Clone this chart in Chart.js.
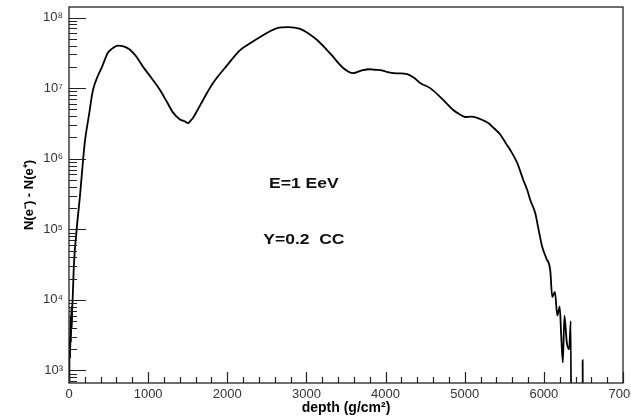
<!DOCTYPE html>
<html>
<head>
<meta charset="utf-8">
<script src="https://cdn.jsdelivr.net/npm/chart.js@4"></script>
<style>
    html, body { margin: 0; padding: 0; background: #fff; }
    #wrap { width: 631px; height: 418px; }
</style>
</head>
<body>
<div id="wrap"><canvas id="showerChart" width="631" height="418"></canvas></div>
<script>
// depth in g/cm2 and N(e-) - N(e+) (1 = empty bin, drawn below the axis)
const depth = [0, 5, 10, 15, 20, 25, 30, 35, 40, 47, 63, 97, 140, 181, 202, 250, 303, 360, 417, 493,
    556, 620, 690, 771, 850, 936, 1040, 1150, 1240, 1315, 1403, 1460, 1504, 1540, 1568, 1620, 1694, 1820, 1997, 2162,
    2300, 2415, 2530, 2630, 2769, 2920, 3030, 3135, 3300, 3464, 3590, 3700, 3805, 3870, 3932, 4000, 4058, 4150, 4273, 4360,
    4437, 4564, 4728, 4855, 4930, 5006, 5080, 5158, 5230, 5297, 5370, 5449, 5520, 5575, 5664, 5740, 5790, 5828, 5891, 5929,
    5980, 6030, 6081, 6106, 6140, 6170, 6200, 6220, 6240, 6260, 6290, 6320, 6340, 6352, 6480, 6490, 6500];
const counts = [1, 900, 3000, 1500, 6000, 2500, 8000, 4000, 7000, 1.1e4, 3.3e4, 1.0e5, 3.1e5, 1.05e6, 1.8e6, 4.0e6, 9.4e6, 1.45e7, 2.0e7, 3.2e7,
    3.7e7, 4.0e7, 3.9e7, 3.5e7, 2.8e7, 2.0e7, 1.4e7, 9.4e6, 6.3e6, 4.5e6, 3.6e6, 3.4e6, 3.2e6, 3.5e6, 3.8e6, 4.8e6, 6.8e6, 1.18e7, 2.1e7, 3.46e7,
    4.4e7, 5.3e7, 6.3e7, 7.1e7, 7.3e7, 6.9e7, 5.9e7, 4.8e7, 3.1e7, 1.93e7, 1.63e7, 1.78e7, 1.85e7, 1.82e7, 1.8e7, 1.72e7, 1.66e7, 1.62e7, 1.58e7, 1.4e7,
    1.18e7, 1.0e7, 6.8e6, 4.9e6, 4.3e6, 3.9e6, 3.95e6, 3.8e6, 3.5e6, 3.2e6, 2.7e6, 2.2e6, 1.65e6, 1.33e6, 8.7e5, 5.0e5, 3.6e5, 2.6e5, 1.7e5, 1.05e5,
    5.6e4, 3.9e4, 2.6e4, 1.1e4, 1.3e4, 6e3, 8e3, 3e3, 1.3e3, 6e3, 2.5e3, 2.0e3, 5e3, 1, 1, 1400, 1];

const xTicks = [0, 1000, 2000, 3000, 4000, 5000, 6000, 7000];
const yTicks = [1e3, 1e4, 1e5, 1e6, 1e7, 1e8];
const supers = { 3: "³", 4: "⁴", 5: "⁵", 6: "⁶", 7: "⁷", 8: "⁸" };
const notes = ["E=1 EeV", "Y=0.2  CC"];

const tickFont = { family: "'Liberation Sans', Arial, sans-serif", size: 13 };
const titleFont = { family: "'Liberation Sans', Arial, sans-serif", size: 14, weight: "bold" };

// ROOT style frame with ticks pointing inwards, plus the two labels
const frameTicks = {
    id: "frameTicks",
    afterDatasetsDraw(chart) {
        const { ctx, chartArea: a, scales } = chart;
        const xs = scales.x, ys = scales.y;
        ctx.save();
        ctx.strokeStyle = "#222";
        ctx.lineWidth = 1.3;
        ctx.strokeRect(a.left, a.top, a.right - a.left, a.bottom - a.top);

        ctx.lineWidth = 1.2;
        ctx.beginPath();
        for (let v = 0; v <= 7000; v += 200) {
            const px = Math.round(xs.getPixelForValue(v)) + 0.5;
            const len = v % 1000 === 0 ? 11 : 6;
            ctx.moveTo(px, a.bottom);
            ctx.lineTo(px, a.bottom - len);
        }
        for (let e = 2; e <= 8; e++) {
            for (let m = 1; m <= 9; m++) {
                const v = m * Math.pow(10, e);
                if (v < ys.min || v > ys.max) continue;
                const py = Math.round(ys.getPixelForValue(v)) + 0.5;
                const len = m === 1 ? 17 : 8;
                ctx.moveTo(a.left, py);
                ctx.lineTo(a.left + len, py);
            }
        }
        ctx.stroke();

        ctx.fillStyle = "#111";
        ctx.font = "bold 14px 'Liberation Sans', Arial, sans-serif";
        ctx.textAlign = "center";
        ctx.textBaseline = "middle";
        const cx = a.left + (a.right - a.left) * 0.424;
        [[notes[0], 184], [notes[1], 240]].forEach(([t, y]) => {
            ctx.save();
            ctx.translate(cx, y);
            ctx.scale(1.25, 1);
            ctx.fillText(t, 0, 0);
            ctx.restore();
        });
        ctx.restore();
    }
};

const ctx = document.getElementById("showerChart").getContext("2d");

new Chart(ctx, {
    type: "line",
    data: {
        datasets: [{
            data: depth.map((d, i) => ({ x: d, y: counts[i] })),
            borderColor: "#000",
            borderWidth: 1.8,
            pointRadius: 0,
            cubicInterpolationMode: "monotone",
            fill: false
        }]
    },
    options: {
        responsive: false,
        animation: false,
        layout: { padding: { top: 7, right: 8, left: 0, bottom: 0 } },
        plugins: { legend: { display: false }, tooltip: { enabled: false } },
        scales: {
            x: {
                type: "linear",
                min: 0,
                max: 7000,
                grid: { display: false, drawTicks: false },
                border: { display: false },
                afterBuildTicks: s => { s.ticks = xTicks.map(v => ({ value: v })); },
                afterFit: s => { s.height = 35; s.paddingLeft = 0; s.paddingRight = 0; },
                ticks: { color: "#333", font: tickFont, padding: 4, maxRotation: 0, autoSkip: false,
                    callback: v => String(v) },
                title: { display: true, text: "depth (g/cm²)", color: "#000", font: titleFont,
                    padding: { top: 0, bottom: 1 } }
            },
            y: {
                type: "logarithmic",
                min: 665,
                max: 1.41e8,
                grid: { display: false, drawTicks: false },
                border: { display: false },
                afterBuildTicks: s => { s.ticks = yTicks.map(v => ({ value: v })); },
                afterFit: s => { s.width = 69; s.paddingTop = 0; s.paddingBottom = 0; },
                ticks: { color: "#333", font: tickFont, padding: 6, autoSkip: false,
                    callback: v => "10" + supers[Math.round(Math.log10(v))] },
                title: { display: true, text: "N(e⁻) - N(e⁺)", color: "#000",
                    font: { family: "'Liberation Sans', Arial, sans-serif", size: 13, weight: "bold" },
                    padding: { top: 22, bottom: 0 } }
            }
        }
    },
    plugins: [frameTicks]
});
</script>
</body>
</html>
